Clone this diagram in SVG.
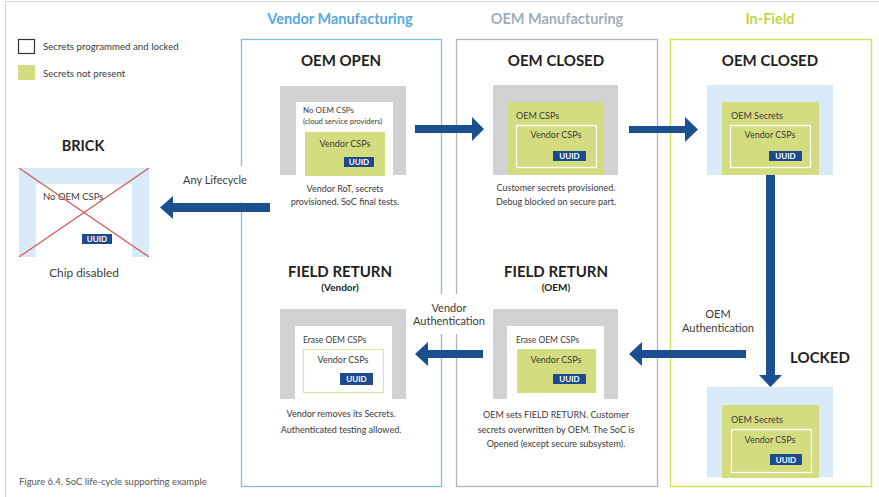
<svg xmlns="http://www.w3.org/2000/svg" width="879" height="497" viewBox="0 0 879 497">
<style>
text{font-family:Lato,"Noto Sans","Liberation Sans",sans-serif;fill:#3b3b3b}
.lane{font-size:14.5px;font-weight:bold;text-anchor:middle}
.title{font-size:15px;font-weight:bold;text-anchor:middle;fill:#1f1f1f}
.sub{font-size:10px;font-weight:bold;text-anchor:middle;fill:#1f1f1f}
.cap{font-size:9px;text-anchor:middle}
.small{font-size:8px}
.in{font-size:9px}
.inc{font-size:9px;text-anchor:middle}
.lbl{font-size:11px;text-anchor:middle}
.uuidt{font-size:8px;font-weight:bold;fill:#ffffff;text-anchor:middle}
.gray{fill:#d0d2d4}
.blue{fill:#d9eaf8}
.green{fill:#d4dc80}
.white{fill:#ffffff}
.uuid{fill:#1d4a8a}
.arrow{fill:#1c4f90}
</style>
<rect x="0" y="0" width="879" height="497" fill="#ffffff"/>
<rect x="5.5" y="1.5" width="880" height="500" fill="none" stroke="#d6d6d6" stroke-width="1"/>

<g id="legend">
<rect x="18.5" y="39.5" width="16" height="14" fill="none" stroke="#333" stroke-width="1.2"/>
<text x="43" y="50" style="font-size:9.7px">Secrets programmed and locked</text>
<rect x="18" y="65" width="17" height="15" class="green"/>
<text x="43" y="77" style="font-size:9.7px">Secrets not present</text>
</g>

<g id="lane-vendor">
<text x="340" y="24" class="lane" style="fill:#5ba7dd">Vendor Manufacturing</text>
<rect x="241.5" y="39.5" width="200" height="447" fill="none" stroke="#7fbde6" stroke-width="1.3"/>
</g>
<g id="lane-oem">
<text x="557" y="24" class="lane" style="fill:#a3adb8">OEM Manufacturing</text>
<rect x="456.5" y="39.5" width="201" height="447" fill="none" stroke="#aab4bf" stroke-width="1.3"/>
</g>
<g id="lane-infield">
<text x="770" y="24" class="lane" style="fill:#c5d54a">In-Field</text>
<rect x="670.5" y="39.5" width="201" height="447" fill="none" stroke="#d6e05a" stroke-width="1.5"/>
</g>

<g id="label-backgrounds">
<rect x="236" y="166" width="11" height="36" class="white"/>
<rect x="436" y="294" width="26" height="40" class="white"/>
</g>

<g id="node-oem-open">
<text x="341" y="66" class="title">OEM OPEN</text>
<rect x="280" y="86" width="126" height="89" class="gray"/>
<rect x="296" y="102" width="97" height="73" class="white"/>
<text x="303" y="113" class="small">No OEM CSPs</text>
<text x="303" y="124" class="small" style="font-size:7.5px">(cloud service providers)</text>
<rect x="305" y="132" width="80" height="44" class="green"/>
<text x="345" y="147" class="inc">Vendor CSPs</text>
<rect x="344" y="157" width="30" height="10" class="uuid"/>
<text x="359" y="165" class="uuidt">UUID</text>
<text x="345" y="192" class="cap">Vendor RoT, secrets</text>
<text x="345" y="205" class="cap">provisioned. SoC final tests.</text>
</g>

<g id="node-oem-closed-mfg">
<text x="556" y="66" class="title">OEM CLOSED</text>
<rect x="493" y="85" width="125" height="90" class="gray"/>
<rect x="507" y="102" width="97" height="73" class="green"/>
<text x="516" y="119" class="in">OEM CSPs</text>
<rect x="516.5" y="125.5" width="80" height="42" fill="none" stroke="#ffffff" stroke-width="1.3"/>
<text x="556" y="138" class="inc">Vendor CSPs</text>
<rect x="553" y="151" width="33" height="10" class="uuid"/>
<text x="569.5" y="159" class="uuidt">UUID</text>
<text x="556" y="191" class="cap">Customer secrets provisioned.</text>
<text x="556" y="205" class="cap">Debug blocked on secure part.</text>
</g>

<g id="node-oem-closed-field">
<text x="770" y="66" class="title">OEM CLOSED</text>
<rect x="707" y="85" width="126" height="90" class="blue"/>
<rect x="722" y="102" width="97" height="73" class="green"/>
<text x="731" y="119" class="in">OEM Secrets</text>
<rect x="730.5" y="125.5" width="80" height="42" fill="none" stroke="#ffffff" stroke-width="1.3"/>
<text x="770" y="138" class="inc">Vendor CSPs</text>
<rect x="769" y="151" width="33" height="10" class="uuid"/>
<text x="785.5" y="159" class="uuidt">UUID</text>
</g>

<g id="node-locked">
<text x="820" y="363" class="title">LOCKED</text>
<rect x="707" y="387" width="126" height="90" class="blue"/>
<rect x="722" y="405" width="97" height="73" class="green"/>
<text x="731" y="423" class="in">OEM Secrets</text>
<rect x="731.5" y="429.5" width="80" height="43" fill="none" stroke="#ffffff" stroke-width="1.3"/>
<text x="770" y="443" class="inc">Vendor CSPs</text>
<rect x="770" y="454" width="32" height="11" class="uuid"/>
<text x="786" y="462.5" class="uuidt">UUID</text>
</g>

<g id="node-field-return-oem">
<text x="556" y="277" class="title">FIELD RETURN</text>
<text x="556" y="291" class="sub">(OEM)</text>
<rect x="493" y="309" width="125" height="90" class="gray"/>
<rect x="507" y="326" width="97" height="73" class="white"/>
<text x="516" y="343" class="small" style="font-size:8.5px">Erase OEM CSPs</text>
<rect x="517" y="349" width="79" height="44" class="green"/>
<text x="556" y="363" class="inc">Vendor CSPs</text>
<rect x="553" y="374" width="33" height="10" class="uuid"/>
<text x="569.5" y="382" class="uuidt">UUID</text>
<text x="556" y="418" class="cap">OEM sets FIELD RETURN. Customer</text>
<text x="556" y="433" class="cap">secrets overwritten by OEM. The SoC is</text>
<text x="556" y="447" class="cap">Opened (except secure subsystem).</text>
</g>

<g id="node-field-return-vendor">
<text x="340" y="277" class="title">FIELD RETURN</text>
<text x="340" y="291" class="sub">(Vendor)</text>
<rect x="280" y="309" width="126" height="90" class="gray"/>
<rect x="295" y="326" width="97" height="73" class="white"/>
<text x="303" y="343" class="small" style="font-size:8.5px">Erase OEM CSPs</text>
<rect x="303.5" y="349.5" width="80" height="43" fill="#ffffff" stroke="#dde5a0" stroke-width="1.2"/>
<text x="343" y="363" class="inc">Vendor CSPs</text>
<rect x="340" y="373" width="33" height="12" class="uuid"/>
<text x="356.5" y="382" class="uuidt">UUID</text>
<text x="341" y="417" class="cap">Vendor removes its Secrets.</text>
<text x="341" y="433" class="cap">Authenticated testing allowed.</text>
</g>

<g id="node-brick">
<text x="83" y="151" class="title" style="font-size:14.5px">BRICK</text>
<rect x="19" y="168" width="130" height="89" class="blue"/>
<rect x="36" y="184" width="96" height="73" class="white"/>
<text x="43" y="200" class="small" style="font-size:9.5px">No OEM CSPs</text>
<rect x="82" y="234" width="30" height="10" class="uuid"/>
<text x="97" y="242" class="uuidt">UUID</text>
<line x1="19" y1="168" x2="149" y2="257" stroke="#d0605a" stroke-width="1.3"/>
<line x1="149" y1="168" x2="19" y2="257" stroke="#d0605a" stroke-width="1.3"/>
<text x="84" y="277" class="lbl" style="font-size:11.8px">Chip disabled</text>
</g>

<g id="connectors">
<polygon class="arrow" points="415,125 472,125 472,117 484,129 472,141 472,133 415,133"/>
<polygon class="arrow" points="629,126 685,126 685,117 698,129.5 685,142 685,133 629,133"/>
<polygon class="arrow" points="766,175 775,175 775,375 782,375 770.5,387 759,375 766,375"/>
<polygon class="arrow" points="746,350 642,350 642,342 629,354 642,366 642,358 746,358"/>
<polygon class="arrow" points="483,350 428,350 428,342 415,354 428,366 428,358 483,358"/>
<polygon class="arrow" points="270,203 173,203 173,196 160,207.5 173,219 173,212 270,212"/>
<text x="215" y="184" class="lbl">Any Lifecycle</text>
<text x="449" y="312" class="lbl">Vendor</text>
<text x="449" y="325" class="lbl">Authentication</text>
<text x="718" y="318" class="lbl">OEM</text>
<text x="718" y="332" class="lbl">Authentication</text>
</g>

<text x="19" y="485" style="font-size:9.5px;fill:#555">Figure 6.4. SoC life-cycle supporting example</text>
</svg>
